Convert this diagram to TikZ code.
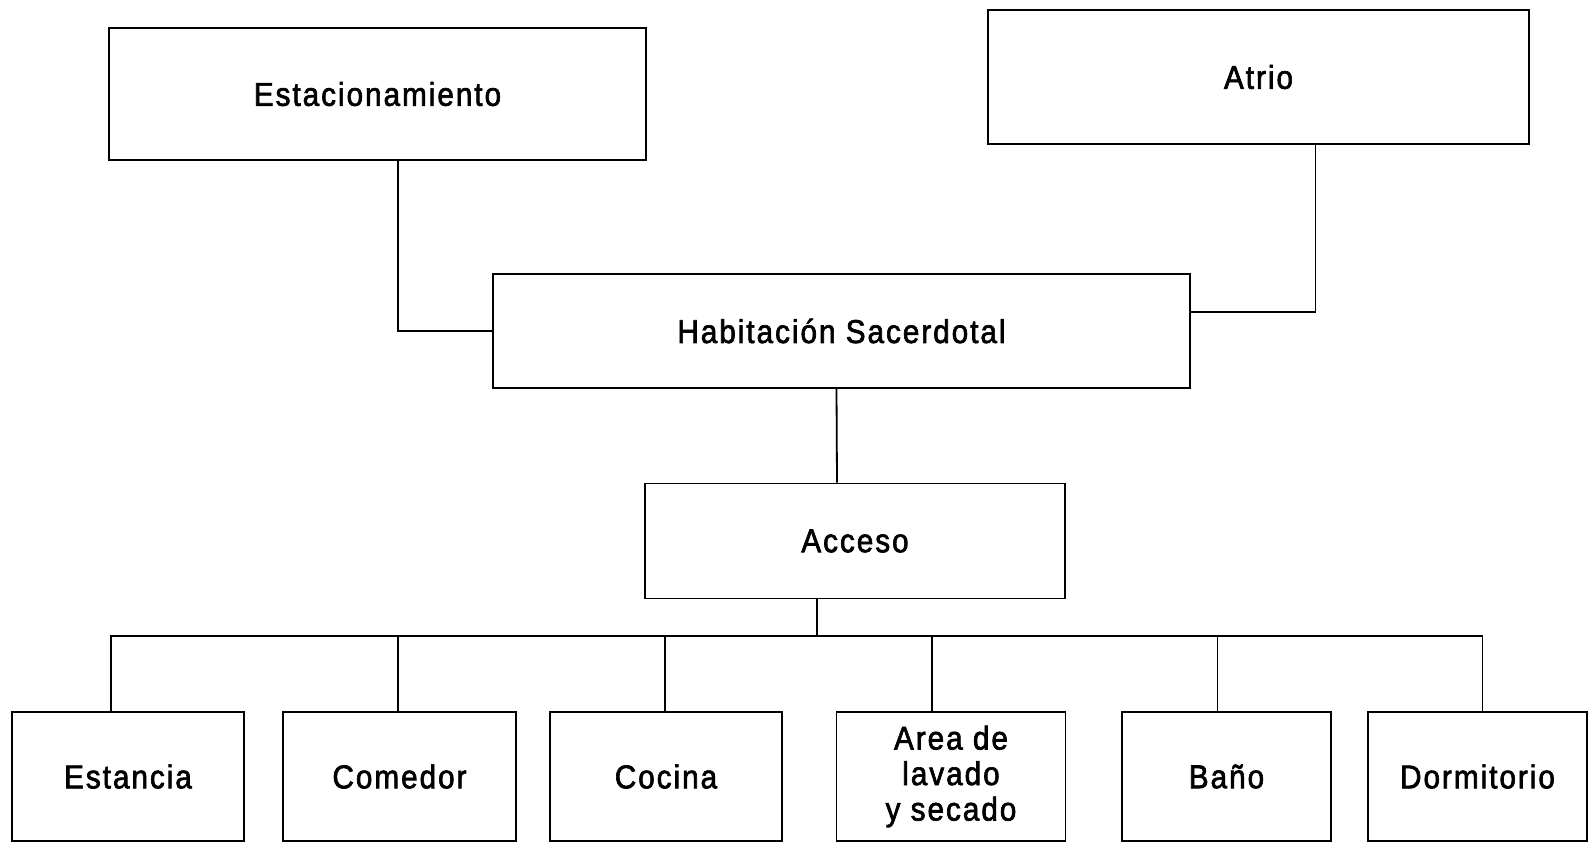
\documentclass[tikz,border=0pt]{standalone}
\usepackage{fontspec}
\setmainfont{Liberation Sans}
\newfontface\labfont[FakeBold=2,FakeStretch=0.9,LetterSpace=6]{Liberation Sans}
\begin{document}
\begin{tikzpicture}[x=1pt,y=-1pt,
  box/.style={draw=black,line width=1.8pt,inner sep=0pt,align=center,
    font=\labfont\fontsize{33}{35.5}\selectfont},
  link/.style={draw=black,line width=1.8pt}]
\useasboundingbox (0,0) rectangle (1588,843);
% top level
\node[box,minimum width=537,minimum height=132] (est) at (377.5,94) {Estacionamiento};
\node[box,minimum width=541,minimum height=134] (atrio) at (1258.5,77) {Atrio};
\node[box,minimum width=697,minimum height=114] (hab) at (841.5,331) {Habitación Sacerdotal};
\node[box,minimum width=420,minimum height=115] (acc) at (855,541) {Acceso};
% bottom row
\node[box,minimum width=232,minimum height=129] (estancia) at (128,776.5) {Estancia};
\node[box,minimum width=233,minimum height=129] (comedor) at (399.5,776.5) {Comedor};
\node[box,minimum width=232,minimum height=129] (cocina) at (666,776.5) {Cocina};
\node[box,minimum width=229,minimum height=129] (area) at (951,776.5) {Area de\\lavado\\y secado};
\node[box,minimum width=209,minimum height=129] (bano) at (1226.5,776.5) {Baño};
\node[box,minimum width=219,minimum height=129] (dorm) at (1477.5,776.5) {Dormitorio};
\coordinate (bus) at (817,636);
% connectors
\draw[link] ([xshift=20.5pt]est.south) |- (hab.west);
\draw[link] ([xshift=57pt]atrio.south) |- ([yshift=19pt]hab.east);
\draw[link] ([xshift=-5pt]hab.south) -- ([xshift=-18pt]acc.north);
\draw[link] ([xshift=-38pt]acc.south) -- (bus);
\draw[link] (bus) -| ([xshift=-17pt]estancia.north);
\draw[link] (bus) -| ([xshift=-1.5pt]comedor.north);
\draw[link] (bus) -| ([xshift=-1pt]cocina.north);
\draw[link] (bus) -| ([xshift=-19pt]area.north);
\draw[link] (bus) -| ([xshift=-9pt]bano.north);
\draw[link] (bus) -| ([xshift=5pt]dorm.north);
\end{tikzpicture}
\end{document}
